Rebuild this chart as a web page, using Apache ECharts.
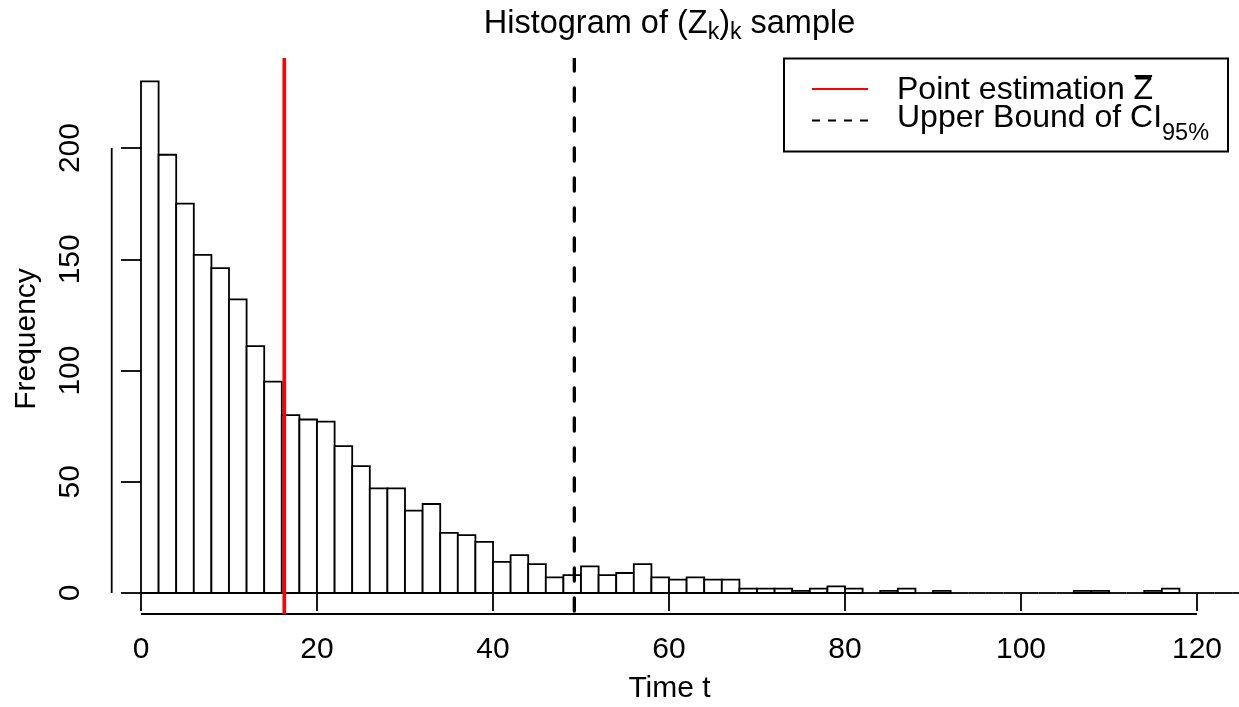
<!DOCTYPE html>
<html><head><meta charset="utf-8">
<script src="https://cdn.jsdelivr.net/npm/echarts@6/dist/echarts.min.js"></script>
<style>html,body{margin:0;padding:0;background:#fff}#c{width:1239px;height:707px}</style>
</head><body><div id="c"></div>
<script>
// ---- data ----
const binWidth = 2;
const binStarts = [0,2,4,6,8,10,12,14,16,18,20,22,24,26,28,30,32,34,36,38,40,42,44,46,48,50,52,54,56,58,60,62,64,66,68,70,72,74,76,78,80,82,84,86,88,90,92,94,96,98,100,102,104,106,108,110,112,114,116,118,120,122,124];
const counts = [230,197,175,152,146,132,111,95,80,78,77,66,57,47,47,37,40,27,26,23,14,17,13,7,8,12,8,9,13,7,6,7,6,6,2,2,2,1,2,3,2,0,1,2,0,1,0,0,0,0,0,0,0,1,1,0,0,1,2,0,0,0,0];
const xTicks = [0,20,40,60,80,100,120];
const yTicks = [0,50,100,150,200];
const pointEstimate = 16.28;
const upperBound = 49.24;

const X_MIN = -3.33, X_MAX = 124.77, Y_MIN = -9.44, Y_MAX = 240.5;
const FONT = '"Liberation Sans", Arial, sans-serif';
const INK = '#000';

const histData = binStarts.map((b, i) => [b, counts[i]]);

const cv = document.createElement('canvas').getContext('2d');
function tw(t, s) { cv.font = s + 'px ' + FONT; return cv.measureText(t).width; }
function mid(base, s) { return base - 0.3465 * s; }

// segments: {t, s, dy}
function textRun(segs, x, base, align) {
  const widths = segs.map(g => tw(g.t, g.s));
  const total = widths.reduce((a, b) => a + b, 0);
  let cx = align === 'center' ? x - total / 2 : x;
  const els = [];
  const pos = [];
  segs.forEach((g, i) => {
    els.push({type: 'text', silent: true, style: {text: g.t, x: cx, y: mid(base + (g.dy || 0), g.s), font: g.s + 'px ' + FONT, fill: INK, align: 'left', verticalAlign: 'middle'}});
    pos.push([cx, widths[i]]);
    cx += widths[i];
  });
  return {els, pos};
}

const graphics = [];
// title
const title = textRun([
  {t: 'Histogram of (Z', s: 32.5}, {t: 'k', s: 23, dy: 6}, {t: ')', s: 32.5}, {t: 'k', s: 23, dy: 6}, {t: ' sample', s: 32.5}
], 669.5, 35, 'center');
graphics.push(...title.els);
// x axis name
graphics.push({type: 'text', silent: true, style: {text: 'Time t', x: 669.5, y: mid(699, 30), font: '30px ' + FONT, fill: INK, align: 'center', verticalAlign: 'middle'}});
// y axis name
graphics.push({type: 'text', silent: true, x: 27, y: 339, rotation: Math.PI / 2, style: {text: 'Frequency', x: 0, y: 0, font: '30px ' + FONT, fill: INK, align: 'center', verticalAlign: 'middle'}});
// legend
graphics.push({type: 'rect', silent: true, shape: {x: 784, y: 58.5, width: 444, height: 93}, style: {fill: '#fff', stroke: INK, lineWidth: 2}, z: 10});
graphics.push({type: 'line', silent: true, shape: {x1: 812, y1: 89, x2: 868, y2: 89}, style: {stroke: '#ff0000', lineWidth: 2}, z: 11});
graphics.push({type: 'line', silent: true, shape: {x1: 812, y1: 120.5, x2: 868, y2: 120.5}, style: {stroke: INK, lineWidth: 2, lineDash: [8, 8]}, z: 11});
const l1 = textRun([{t: 'Point estimation ', s: 32}, {t: 'Z', s: 32}], 897, 101.5, 'left');
l1.els.forEach(e => e.z = 11);
graphics.push(...l1.els);
graphics.push({type: 'line', silent: true, shape: {x1: l1.pos[1][0] + 1, y1: 76, x2: l1.pos[1][0] + l1.pos[1][1] - 1, y2: 76}, style: {stroke: INK, lineWidth: 2}, z: 11});
const l2 = textRun([{t: 'Upper Bound of CI', s: 32}, {t: '95%', s: 23.5, dy: 12}], 897, 129.5, 'left');
l2.els.forEach(e => e.z = 11);
graphics.push(...l2.els);

const chart = echarts.init(document.getElementById('c'), null, {renderer: 'canvas'});
chart.setOption({
  animation: false,
  backgroundColor: '#fff',
  grid: {left: 111.7, right: 0, top: 58, bottom: 93, containLabel: false},
  xAxis: {
    type: 'value', min: X_MIN, max: X_MAX,
    axisLine: {show: false}, splitLine: {show: false},
    axisTick: {show: true, customValues: xTicks, length: 18, lineStyle: {color: INK, width: 1.8}},
    axisLabel: {customValues: xTicks, fontSize: 30, fontFamily: FONT, color: INK, margin: 21}
  },
  yAxis: {
    type: 'value', min: Y_MIN, max: Y_MAX,
    axisLine: {show: false}, splitLine: {show: false},
    axisTick: {show: true, customValues: yTicks, length: 20, lineStyle: {color: INK, width: 1.8}},
    axisLabel: {customValues: yTicks, fontSize: 30, fontFamily: FONT, color: INK, margin: 26, rotate: 90}
  },
  series: [
    {
      type: 'custom', name: 'hist', clip: true, data: histData,
      renderItem: (params, api) => {
        const x0 = api.value(0), c = api.value(1);
        const p0 = api.coord([x0, 0]);
        const p1 = api.coord([x0 + binWidth, c]);
        if (c === 0) {
          return {type: 'line', shape: {x1: p0[0], y1: p0[1], x2: p1[0], y2: p0[1]}, style: {stroke: INK, lineWidth: 1.8}};
        }
        return {type: 'rect', shape: {x: p0[0], y: p1[1], width: p1[0] - p0[0], height: p0[1] - p1[1]}, style: {fill: '#fff', stroke: INK, lineWidth: 1.8}};
      }
    },
    {
      type: 'custom', name: 'axes', clip: false, data: [[0]],
      renderItem: (params, api) => {
        const a = api.coord([xTicks[0], Y_MIN]), b = api.coord([xTicks[xTicks.length - 1], Y_MIN]);
        const c = api.coord([X_MIN, yTicks[0]]), d = api.coord([X_MIN, yTicks[yTicks.length - 1]]);
        return {type: 'group', children: [
          {type: 'line', shape: {x1: a[0], y1: a[1], x2: b[0], y2: b[1]}, style: {stroke: INK, lineWidth: 1.8}},
          {type: 'line', shape: {x1: c[0], y1: c[1], x2: d[0], y2: d[1]}, style: {stroke: INK, lineWidth: 1.8}}
        ]};
      }
    },
    {
      type: 'custom', name: 'Point estimation', clip: true, data: [[pointEstimate]], z: 3,
      renderItem: (params, api) => {
        const a = api.coord([api.value(0), Y_MIN]), b = api.coord([api.value(0), Y_MAX]);
        return {type: 'line', shape: {x1: a[0], y1: a[1], x2: b[0], y2: b[1]}, style: {stroke: '#ff0000', lineWidth: 3.6}};
      }
    },
    {
      type: 'custom', name: 'Upper bound', clip: true, data: [[upperBound]], z: 3,
      renderItem: (params, api) => {
        const a = api.coord([api.value(0), Y_MAX]), b = api.coord([api.value(0), Y_MIN]);
        return {type: 'line', shape: {x1: a[0], y1: a[1], x2: b[0], y2: b[1]}, style: {stroke: INK, lineWidth: 3.3, lineDash: [13, 17], lineCap: 'round'}};
      }
    }
  ],
  graphic: graphics
});
</script></body></html>
